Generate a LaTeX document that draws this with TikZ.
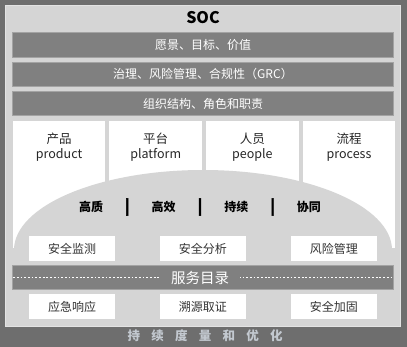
\documentclass[tikz,border=0pt]{standalone}
\usepackage{fontspec}
\setmainfont{Noto Sans CJK SC}
\newfontfamily\trackfont[LetterSpace=90]{Noto Sans CJK SC}
\newfontfamily\sepfont[FakeBold=3]{Noto Sans CJK SC}
\usetikzlibrary{positioning}
\definecolor{FrameGray}{HTML}{6E6E6E}
\definecolor{PanelGray}{HTML}{D5D5D5}
\definecolor{PanelEdge}{HTML}{E3E3E3}
\definecolor{BarGray}{HTML}{808080}
\definecolor{BarEdge}{HTML}{A3A3A3}
\definecolor{TrackGray}{HTML}{C3C9D0}
\newcommand{\sepbar}{\hspace{22pt}{\sepfont\bfseries\fontsize{15}{15}\selectfont|}\hspace{22pt}}

\begin{document}
\begin{tikzpicture}[x=1pt, y=-1pt,
  panel/.style={fill=PanelGray, draw=PanelEdge, line width=0.8pt, inner sep=0pt},
  bar/.style={fill=BarGray, draw=BarEdge, line width=0.8pt, minimum width=381pt,
              minimum height=24.5pt, inner sep=0pt, text=white,
              font=\fontsize{12}{13}\selectfont},
  card/.style={fill=white, minimum width=92.75pt, minimum height=127pt, inner sep=0pt},
  cardtext/.style={align=center, inner sep=0pt, text=black!85,
                   font=\fontsize{12.5}{14.5}\selectfont},
  svcbox/.style={fill=white, minimum width=86pt, minimum height=25pt, inner sep=0pt,
                 text=black!80, font=\fontsize{12}{14}\selectfont},
]
\useasboundingbox (0,0) rectangle (407,347);
\fill[FrameGray] (0,0) rectangle (407,347);
\node[panel, minimum width=395pt, minimum height=321.5pt, anchor=north west] (panel) at (5,5) {};
\node[font=\bfseries\fontsize{16}{18}\selectfont] (soc) at (203,18) {SOC};

\node[bar] (vision) at (203,45) {愿景、目标、价值};
\node[bar, below=4pt of vision] (grc) {治理、风险管理、合规性（GRC）};
\node[bar, below=4pt of grc] (roles) {组织结构、角色和职责};

\node[card, anchor=north west] (product) at (12.5,121) {};
\node[card, right=3.5pt of product] (platform) {};
\node[card, right=3.5pt of platform] (people) {};
\node[card, right=3.5pt of people] (process) {};

\node[cardtext, below=12pt of product.north] {产品\\product};
\node[cardtext, below=12pt of platform.north] {平台\\platform};
\node[cardtext, below=12pt of people.north] {人员\\people};
\node[cardtext, below=12pt of process.north] {流程\\process};

\begin{scope}
  \clip (12,150) rectangle (395,250);
  \fill[PanelGray] (203,250) ellipse [x radius=189pt, y radius=80pt];
\end{scope}

\node[font=\bfseries\fontsize{12}{14}\selectfont] (values) at (200,207)
  {高质\sepbar 高效\sepbar 持续\sepbar 协同};

\node[svcbox] (monitor) at (72,248.5) {安全监测};
\node[svcbox, right=44.5pt of monitor] (analysis) {安全分析};
\node[svcbox, right=44.5pt of analysis] (risk) {风险管理};

\node[bar] (catalog) at (203,277.5) {};
\draw[white, line width=1.8pt, dash pattern=on 1.8pt off 1.9pt]
  ([xshift=1pt]catalog.west) -- ([xshift=-2pt]catalog.east);
\node[fill=BarGray, inner xsep=11pt, inner ysep=2pt, text=white,
      font=\fontsize{14.5}{16}\selectfont] (catalogtext) at (200,277.5) {服务目录};

\node[svcbox, below=33pt of monitor] (response) {应急响应};
\node[svcbox, below=33pt of analysis] (forensics) {溯源取证};
\node[svcbox, below=33pt of risk] (hardening) {安全加固};

\node[text=TrackGray, font=\trackfont\bfseries\fontsize{12.5}{14}\selectfont] (improve)
  at (205,336) {持续度量和优化};
\end{tikzpicture}
\end{document}
